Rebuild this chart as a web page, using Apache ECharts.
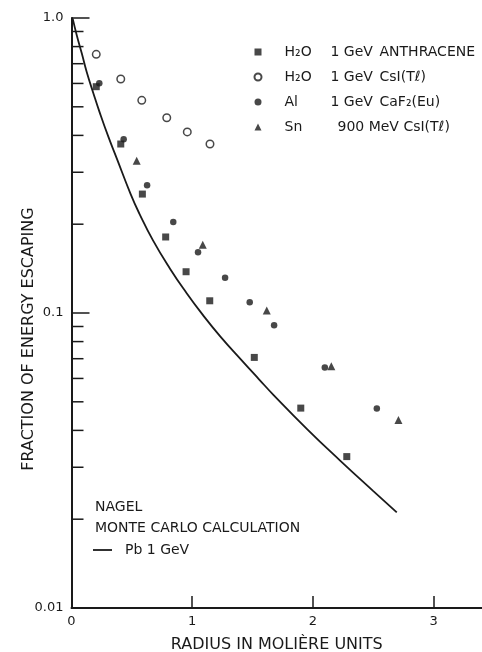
<!DOCTYPE html>
<html>
<head>
<meta charset="utf-8">
<script src="https://cdn.jsdelivr.net/npm/echarts@6/dist/echarts.min.js"></script>
<style>
html,body{margin:0;padding:0;background:#fff;}
#chart{width:482px;height:652px;}
</style>
</head>
<body>
<div id="chart"></div>
<script>
// ---- data ----
const h2oAnthraceneX = [0.205, 0.408, 0.587, 0.780, 0.949, 1.145, 1.514, 1.899, 2.280];
const h2oAnthraceneY = [0.585, 0.374, 0.253, 0.181, 0.138, 0.110, 0.0707, 0.0476, 0.0326];

const h2oCsIX = [0.205, 0.408, 0.582, 0.789, 0.959, 1.147];
const h2oCsIY = [0.753, 0.621, 0.526, 0.459, 0.411, 0.374];

const alCaFX = [0.230, 0.432, 0.626, 0.843, 1.048, 1.272, 1.476, 1.678, 2.098, 2.529];
const alCaFY = [0.601, 0.388, 0.271, 0.2035, 0.1606, 0.1317, 0.1087, 0.0908, 0.0653, 0.0475];

const snCsIX = [0.540, 1.087, 1.617, 2.152, 2.708];
const snCsIY = [0.328, 0.1704, 0.102, 0.066, 0.0434];

const curveX = [0.010, 0.043, 0.085, 0.126, 0.181, 0.236, 0.305, 0.374, 0.489, 0.563, 0.675, 0.816, 0.954, 1.092, 1.230, 1.408, 1.553, 1.672, 1.949, 2.225, 2.500, 2.694];
const curveY = [0.995, 0.876, 0.759, 0.656, 0.556, 0.475, 0.396, 0.335, 0.2535, 0.2168, 0.1762, 0.1413, 0.1167, 0.0980, 0.0835, 0.0692, 0.0596, 0.0528, 0.0405, 0.0316, 0.0249, 0.0211];

const seriesNames = ['H₂O 1 GeV ANTHRACENE', 'H₂O 1 GeV CsI(Tℓ)', 'Al 1 GeV CaF₂(Eu)', 'Sn 900 MeV CsI(Tℓ)'];
const legendMaterial = ['H₂O', 'H₂O', 'Al', 'Sn'];
const legendEnergy = ['1 GeV', '1 GeV', '1 GeV', '900 MeV'];
const legendDetector = ['ANTHRACENE', 'CsI(Tℓ)', 'CaF₂(Eu)', 'CsI(Tℓ)'];
const curveName = 'Pb 1 GeV';
const annotationLines = ['NAGEL', 'MONTE CARLO CALCULATION'];

const xLabelValues = [0, 1, 2, 3];
const xTickValues = [1, 2, 3];
const yTickValues = [0.01, 0.1, 1];
const yTickLabels = ['0.01', '0.1', '1.0'];
const yMinorTicks = [0.02, 0.03, 0.04, 0.05, 0.06, 0.07, 0.08, 0.09, 0.2, 0.3, 0.4, 0.5, 0.6, 0.7, 0.8, 0.9];

const xTitle = 'RADIUS IN MOLIÈRE UNITS';
const yTitle = 'FRACTION OF ENERGY ESCAPING';

// ---- build ----
const FONT = 'DejaVu Sans';
const INK = '#1a1a1a';
const zip = (xs, ys) => xs.map((x, i) => [x, ys[i]]);

const chart = echarts.init(document.getElementById('chart'), null, {renderer: 'canvas'});

const richBase = {fontFamily: FONT, fontSize: 14, color: INK};
const option = {
  backgroundColor: '#fff',
  animation: false,
  grid: {left: 71.5, right: 0, top: 18, bottom: 44, containLabel: false, outerBoundsMode: 'none'},
  xAxis: {
    type: 'value', min: 0, max: 3.4, interval: 1,
    axisLine: {show: true, lineStyle: {color: INK, width: 2}},
    axisTick: {show: true, inside: true, length: 12, lineStyle: {color: INK, width: 1.5}, customValues: xTickValues},
    axisLabel: {show: true, margin: 7, fontFamily: FONT, fontSize: 13, color: INK, customValues: xLabelValues},
    splitLine: {show: false},
    name: xTitle, nameLocation: 'middle', nameGap: 29, nameMoveOverlap: false,
    nameTextStyle: {fontFamily: FONT, fontSize: 16, color: INK}
  },
  yAxis: {
    type: 'log', logBase: 10, min: 0.01, max: 1,
    axisLine: {show: true, lineStyle: {color: INK, width: 2}},
    axisTick: {show: true, inside: true, length: 18, lineStyle: {color: INK, width: 1.5}},
    axisLabel: {show: true, margin: 8, fontFamily: FONT, fontSize: 13, color: INK,
      formatter: v => {
        const i = yTickValues.findIndex(t => Math.abs(Math.log10(t) - Math.log10(v)) < 1e-6);
        return i >= 0 ? yTickLabels[i] : '';
      }},
    splitLine: {show: false},
    minorTick: {show: false},
    name: yTitle, nameLocation: 'middle', nameGap: 35, nameRotate: 90, nameMoveOverlap: false,
    nameTextStyle: {fontFamily: FONT, fontSize: 16, color: INK, padding: [0, 52, 0, 0]}
  },
  legend: [{
    data: seriesNames,
    orient: 'vertical', left: 248.5, top: 40,
    itemWidth: 7, itemHeight: 7, itemGap: 11,
    selectedMode: false,
    textStyle: {fontFamily: FONT, fontSize: 14, color: INK, padding: [0, 0, 0, 18],
      rich: {
        a: Object.assign({width: 46}, richBase),
        b: Object.assign({width: 49}, richBase),
        c: Object.assign({}, richBase),
        a4: Object.assign({width: 53}, richBase)
      }},
    formatter: name => {
      const i = seriesNames.indexOf(name);
      if (i === 3) return '{a4|' + legendMaterial[i] + '}{c|' + legendEnergy[i] + ' ' + legendDetector[i] + '}';
      return '{a|' + legendMaterial[i] + '}{b|' + legendEnergy[i] + '}{c|' + legendDetector[i] + '}';
    }
  }, {
    data: [{name: curveName, icon: 'rect'}],
    orient: 'vertical', left: 88, top: 538,
    itemWidth: 19, itemHeight: 1.8,
    selectedMode: false,
    textStyle: {fontFamily: FONT, fontSize: 14, color: INK, padding: [0, 0, 0, 8]}
  }],
  graphic: annotationLines.map((t, i) => ({
    type: 'text', left: 95, top: 500 + i * 21,
    style: {text: t, font: '14px "' + FONT + '"', fill: INK}
  })),
  series: [
    {
      name: seriesNames[0], type: 'scatter', symbol: 'rect', symbolSize: 7,
      itemStyle: {color: INK}, data: zip(h2oAnthraceneX, h2oAnthraceneY), z: 3
    },
    {
      name: seriesNames[1], type: 'scatter', symbol: 'circle', symbolSize: 7.5,
      itemStyle: {color: '#fff', borderColor: INK, borderWidth: 1.5}, data: zip(h2oCsIX, h2oCsIY), z: 3
    },
    {
      name: seriesNames[2], type: 'scatter', symbol: 'circle', symbolSize: 6.5,
      itemStyle: {color: INK}, data: zip(alCaFX, alCaFY), z: 3
    },
    {
      name: seriesNames[3], type: 'scatter', symbol: 'triangle', symbolSize: 8,
      itemStyle: {color: INK}, data: zip(snCsIX, snCsIY), z: 3
    },
    {
      name: curveName, type: 'line', smooth: 0.5, symbol: 'none', showSymbol: false,
      lineStyle: {color: INK, width: 1.8}, itemStyle: {color: INK},
      data: zip(curveX, curveY), z: 2
    },
    {
      name: 'minor ticks', type: 'custom', silent: true, clip: false, z: 4,
      renderItem: (params, api) => {
        const p = api.coord([0, api.value(1)]);
        return {type: 'line', shape: {x1: p[0], y1: p[1], x2: p[0] + 12, y2: p[1]},
          style: {stroke: INK, lineWidth: 1.5}};
      },
      data: yMinorTicks.map(v => [0, v])
    }
  ]
};
chart.setOption(option);
</script>
</body>
</html>
